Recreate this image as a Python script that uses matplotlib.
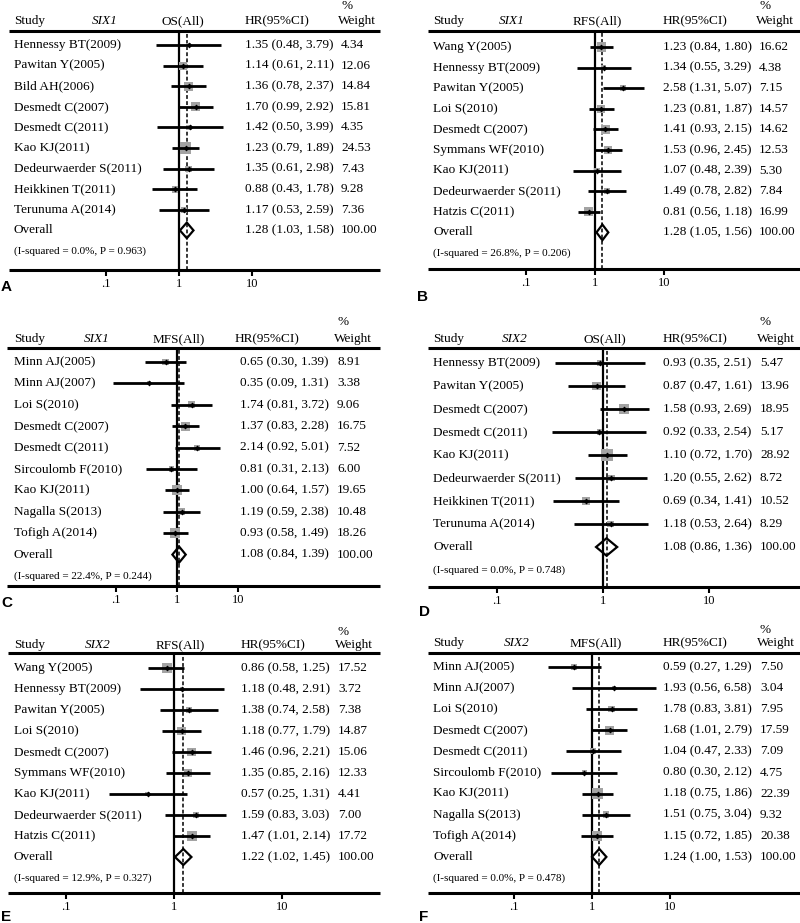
"""Six-panel forest plot (SIX1 / SIX2 hazard ratios, OS / RFS / MFS)."""

import numpy as np
import matplotlib.pyplot as plt
from matplotlib.ticker import NullLocator
from matplotlib.transforms import blended_transform_factory

plt.rcParams['font.family'] = ['Liberation Serif', 'DejaVu Serif']

# -----------------------------
# Data
# -----------------------------
A_STUDY = ["Hennessy BT(2009)", "Pawitan Y(2005)", "Bild AH(2006)", "Desmedt C(2007)",
           "Desmedt C(2011)", "Kao KJ(2011)", "Dedeurwaerder S(2011)", "Heikkinen T(2011)",
           "Terunuma A(2014)"]
A_HR = [1.35, 1.14, 1.36, 1.70, 1.42, 1.23, 1.35, 0.88, 1.17]
A_LO = [0.48, 0.61, 0.78, 0.99, 0.50, 0.79, 0.61, 0.43, 0.53]
A_HI = [3.79, 2.11, 2.37, 2.92, 3.99, 1.89, 2.98, 1.78, 2.59]
A_WT = [4.34, 12.06, 14.84, 15.81, 4.35, 24.53, 7.43, 9.28, 7.36]
A_ALL = [1.28, 1.03, 1.58]
A_HET = "(I-squared = 0.0%, P = 0.963)"

B_STUDY = ["Wang Y(2005)", "Hennessy BT(2009)", "Pawitan Y(2005)", "Loi S(2010)",
           "Desmedt C(2007)", "Symmans WF(2010)", "Kao KJ(2011)", "Dedeurwaerder S(2011)",
           "Hatzis C(2011)"]
B_HR = [1.23, 1.34, 2.58, 1.23, 1.41, 1.53, 1.07, 1.49, 0.81]
B_LO = [0.84, 0.55, 1.31, 0.81, 0.93, 0.96, 0.48, 0.78, 0.56]
B_HI = [1.80, 3.29, 5.07, 1.87, 2.15, 2.45, 2.39, 2.82, 1.18]
B_WT = [16.62, 4.38, 7.15, 14.57, 14.62, 12.53, 5.30, 7.84, 16.99]
B_ALL = [1.28, 1.05, 1.56]
B_HET = "(I-squared = 26.8%, P = 0.206)"

C_STUDY = ["Minn AJ(2005)", "Minn AJ(2007)", "Loi S(2010)", "Desmedt C(2007)",
           "Desmedt C(2011)", "Sircoulomb F(2010)", "Kao KJ(2011)", "Nagalla S(2013)",
           "Tofigh A(2014)"]
C_HR = [0.65, 0.35, 1.74, 1.37, 2.14, 0.81, 1.00, 1.19, 0.93]
C_LO = [0.30, 0.09, 0.81, 0.83, 0.92, 0.31, 0.64, 0.59, 0.58]
C_HI = [1.39, 1.31, 3.72, 2.28, 5.01, 2.13, 1.57, 2.38, 1.49]
C_WT = [8.91, 3.38, 9.06, 16.75, 7.52, 6.00, 19.65, 10.48, 18.26]
C_ALL = [1.08, 0.84, 1.39]
C_HET = "(I-squared = 22.4%, P = 0.244)"

D_STUDY = ["Hennessy BT(2009)", "Pawitan Y(2005)", "Desmedt C(2007)", "Desmedt C(2011)",
           "Kao KJ(2011)", "Dedeurwaerder S(2011)", "Heikkinen T(2011)", "Terunuma A(2014)"]
D_HR = [0.93, 0.87, 1.58, 0.92, 1.10, 1.20, 0.69, 1.18]
D_LO = [0.35, 0.47, 0.93, 0.33, 0.72, 0.55, 0.34, 0.53]
D_HI = [2.51, 1.61, 2.69, 2.54, 1.70, 2.62, 1.41, 2.64]
D_WT = [5.47, 13.96, 18.95, 5.17, 28.92, 8.72, 10.52, 8.29]
D_ALL = [1.08, 0.86, 1.36]
D_HET = "(I-squared = 0.0%, P = 0.748)"

E_STUDY = ["Wang Y(2005)", "Hennessy BT(2009)", "Pawitan Y(2005)", "Loi S(2010)",
           "Desmedt C(2007)", "Symmans WF(2010)", "Kao KJ(2011)", "Dedeurwaerder S(2011)",
           "Hatzis C(2011)"]
E_HR = [0.86, 1.18, 1.38, 1.18, 1.46, 1.35, 0.57, 1.59, 1.47]
E_LO = [0.58, 0.48, 0.74, 0.77, 0.96, 0.85, 0.25, 0.83, 1.01]
E_HI = [1.25, 2.91, 2.58, 1.79, 2.21, 2.16, 1.31, 3.03, 2.14]
E_WT = [17.52, 3.72, 7.38, 14.87, 15.06, 12.33, 4.41, 7.00, 17.72]
E_ALL = [1.22, 1.02, 1.45]
E_HET = "(I-squared = 12.9%, P = 0.327)"

F_STUDY = ["Minn AJ(2005)", "Minn AJ(2007)", "Loi S(2010)", "Desmedt C(2007)",
           "Desmedt C(2011)", "Sircoulomb F(2010)", "Kao KJ(2011)", "Nagalla S(2013)",
           "Tofigh A(2014)"]
F_HR = [0.59, 1.93, 1.78, 1.68, 1.04, 0.80, 1.18, 1.51, 1.15]
F_LO = [0.27, 0.56, 0.83, 1.01, 0.47, 0.30, 0.75, 0.75, 0.72]
F_HI = [1.29, 6.58, 3.81, 2.79, 2.33, 2.12, 1.86, 3.04, 1.85]
F_WT = [7.50, 3.04, 7.95, 17.59, 7.09, 4.75, 22.39, 9.32, 20.38]
F_ALL = [1.24, 1.00, 1.53]
F_HET = "(I-squared = 0.0%, P = 0.478)"

# -----------------------------
# Layout (pixels on an 800 x 923 canvas)
# -----------------------------
W_PX, H_PX = 800, 923
LEFT = dict(study=14, pct=340)
RIGHT = dict(study=433, pct=759)

LAYOUT = {
    "A": dict(line=(9, 380), gene=105, end=183, hr_head=245, hr=245, wt=341, x1=179, dec=73,
              y_pct=6, y_head=21, y_top=31, y_first=45, sp=20.6, y_bot=270, letter=(1, 287)),
    "B": dict(line=(428, 800), gene=512, end=597, hr_head=663, hr=663, wt=759, x1=595, dec=69,
              y_pct=6, y_head=21, y_top=31, y_first=47, sp=20.6, y_bot=269, letter=(417, 297)),
    "C": dict(line=(7, 380), gene=97, end=179, hr_head=235, hr=240, wt=337, x1=177, dec=61,
              y_pct=322, y_head=339, y_top=348, y_first=362, sp=21.4, y_bot=586, letter=(1, 603)),
    "D": dict(line=(428, 800), gene=515, end=605, hr_head=663, hr=663, wt=760, x1=603, dec=106,
              y_pct=322, y_head=339, y_top=348, y_first=363, sp=23.0, y_bot=587, letter=(419, 612)),
    "E": dict(line=(8, 380), gene=98, end=180, hr_head=241, hr=241, wt=338, x1=174, dec=108,
              y_pct=632, y_head=645, y_top=653, y_first=668, sp=21.0, y_bot=893, letter=(1, 917)),
    "F": dict(line=(428, 800), gene=517, end=596, hr_head=663, hr=663, wt=760, x1=592, dec=78,
              y_pct=630, y_head=643, y_top=653, y_first=667, sp=21.1, y_bot=893, letter=(419, 917)),
}

FS = 9.5
BOX_GRAY = "#a3a3a3"

fig = plt.figure(figsize=(W_PX / 100, H_PX / 100), dpi=100)
base = fig.add_axes([0, 0, 1, 1])
base.set_xlim(0, W_PX)
base.set_ylim(H_PX, 0)
base.axis("off")


def draw_panel(key, gene, endpoint, studies, hr, lo, hi, wt, overall, het):
    lay = LAYOUT[key]
    xa, xb = lay["line"]
    x1, dec = lay["x1"], lay["dec"]
    top, bot = lay["y_top"], lay["y_bot"]
    y_first, sp = lay["y_first"], lay["sp"]
    col = LEFT if xa < 400 else RIGHT

    # header
    base.text(lay["wt"], lay["y_pct"], "%", fontsize=FS, va="center", ha="left")
    base.text(col["study"], lay["y_head"], "Study", fontsize=FS, va="center")
    base.text(lay["gene"], lay["y_head"], gene, fontsize=FS, va="center", ha="center", style="italic")
    base.text(lay["end"], lay["y_head"], endpoint, fontsize=FS, va="center", ha="center")
    base.text(lay["hr_head"], lay["y_head"], "HR(95%CI)", fontsize=FS, va="center")
    base.text(lay["wt"] - 3, lay["y_head"], "Weight", fontsize=FS, va="center")
    base.hlines([top, bot], xa, xb, color="black", lw=2.2)
    base.text(*lay["letter"], key, fontsize=11, fontweight="bold", va="center",
              family=["Liberation Sans", "DejaVu Sans"])

    # forest axes: log x scale, rows on y
    fax = fig.add_axes([xa / W_PX, 1 - bot / H_PX, (xb - xa) / W_PX, (bot - top) / H_PX])
    fax.patch.set_alpha(0)
    fax.set_xscale("log")
    fax.set_xlim(10 ** ((xa - x1) / dec), 10 ** ((xb - x1) / dec))
    fax.set_ylim((bot - y_first) / sp, (top - y_first) / sp)
    for s in fax.spines.values():
        s.set_visible(False)
    fax.set_yticks([])
    fax.set_xticks([0.1, 1, 10], [".1", "1", "10"])
    fax.xaxis.set_minor_locator(NullLocator())
    fax.tick_params(axis="x", length=4, width=1.5, pad=1.5, labelsize=9)

    n = len(studies)
    rows = np.arange(n)
    side_pt = 2.25 * np.sqrt(np.array(wt)) * 0.72
    fax.scatter(hr, rows, marker="s", s=side_pt ** 2, color=BOX_GRAY, lw=0, zorder=2)
    fax.hlines(rows, lo, hi, color="black", lw=2.0, zorder=3)
    fax.scatter(hr, rows, marker="D", s=9, color="black", lw=0, zorder=4)

    fax.axvline(1, color="black", lw=1.6, zorder=1)
    fax.axvline(overall[0], color="black", lw=1.1, ls=(0, (2.5, 1.5)), zorder=1)
    o_hr, o_lo, o_hi = overall
    fax.fill([o_lo, o_hr, o_hi, o_hr], [n, n - 0.38, n, n + 0.38],
             facecolor="none", edgecolor="black", lw=1.6, zorder=5)

    # row texts
    tr = blended_transform_factory(base.transData, fax.transData)
    for i, name in enumerate(studies):
        base.text(col["study"], i, name, transform=tr, fontsize=FS, va="center")
        base.text(lay["hr"], i, f"{hr[i]:.2f} ({lo[i]:.2f}, {hi[i]:.2f})",
                  transform=tr, fontsize=FS, va="center")
        base.text(lay["wt"], i, f"{wt[i]:.2f}", transform=tr, fontsize=FS, va="center")
    base.text(col["study"], n, "Overall", transform=tr, fontsize=FS, va="center")
    base.text(lay["hr"], n, f"{o_hr:.2f} ({o_lo:.2f}, {o_hi:.2f})",
              transform=tr, fontsize=FS, va="center")
    base.text(lay["wt"], n, "100.00", transform=tr, fontsize=FS, va="center")
    base.text(col["study"], n + 1, het, transform=tr, fontsize=8, va="center")


draw_panel("A", "SIX1", "OS(All)", A_STUDY, A_HR, A_LO, A_HI, A_WT, A_ALL, A_HET)
draw_panel("B", "SIX1", "RFS(All)", B_STUDY, B_HR, B_LO, B_HI, B_WT, B_ALL, B_HET)
draw_panel("C", "SIX1", "MFS(All)", C_STUDY, C_HR, C_LO, C_HI, C_WT, C_ALL, C_HET)
draw_panel("D", "SIX2", "OS(All)", D_STUDY, D_HR, D_LO, D_HI, D_WT, D_ALL, D_HET)
draw_panel("E", "SIX2", "RFS(All)", E_STUDY, E_HR, E_LO, E_HI, E_WT, E_ALL, E_HET)
draw_panel("F", "SIX2", "MFS(All)", F_STUDY, F_HR, F_LO, F_HI, F_WT, F_ALL, F_HET)

fig.savefig("out.png", dpi=100)
